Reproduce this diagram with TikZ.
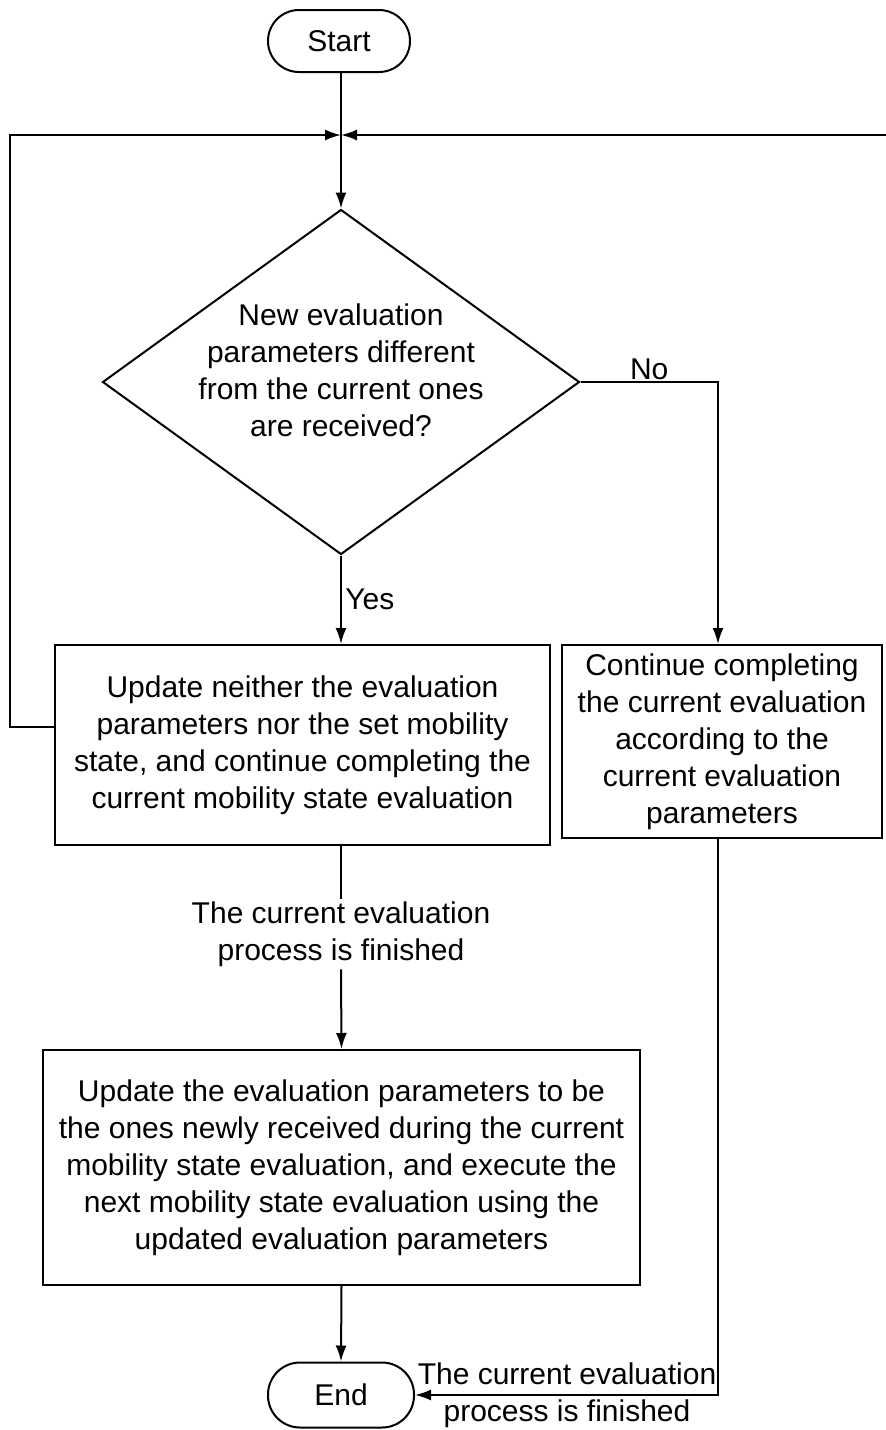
\documentclass[tikz,border=0pt]{standalone}
\usepackage{fontspec}
\setmainfont{Liberation Sans}
\usetikzlibrary{shapes.geometric, arrows.meta}

\begin{document}
\begin{tikzpicture}[x=1pt, y=-1pt, line width=2pt,
    font=\fontsize{30}{37}\selectfont,
    term/.style={draw, rounded corners=31pt, minimum width=142pt,
        minimum height=62pt, inner sep=0pt},
    box/.style={draw, inner sep=0pt, align=center},
    lbl/.style={align=center, inner sep=2pt},
    arr/.style={-{Latex[length=16pt,width=11pt]}}]
    \useasboundingbox (0, 0) rectangle (886, 1430);
    % start terminal and the merge point below it
    \node[term] (start) at (339, 41) {Start};
    \coordinate (jn) at (341, 135);
    \coordinate (lft) at (10, 135);
    \coordinate (rgt) at (886, 135);
    % the decision, its text set a little above the middle
    \node[draw, shape=diamond, aspect=1.383, minimum width=477pt,
        minimum height=345pt, inner sep=0pt] (decide) at (341, 382) {};
    \node[lbl] (ask) at (341, 370)
        {New evaluation\\parameters different\\from the current ones\\are received?};
    % box on the yes branch
    \node[box, minimum width=495pt, minimum height=200pt] (keep) at (302.5, 745)
        {Update neither the evaluation\\parameters nor the set mobility\\state, and continue completing the\\current mobility state evaluation};
    % box on the no branch
    \node[box, minimum width=320pt, minimum height=193pt] (cont) at (722, 741.5)
        {Continue completing\\the current evaluation\\according to the\\current evaluation\\parameters};
    % label between the yes box and the update box
    \node[lbl] (fin) at (341, 934) {The current evaluation\\process is finished};
    % the update box
    \node[box, minimum width=597pt, minimum height=235pt] (update) at (341.5, 1167.5)
        {Update the evaluation parameters to be\\the ones newly received during the current\\mobility state evaluation, and execute the\\next mobility state evaluation using the\\updated evaluation parameters};
    % end terminal, with label of the right return line
    \node[term, minimum width=146pt, minimum height=65pt, rounded corners=32pt] (end)
        at (341, 1395) {End};
    \node[lbl] (fintwo) at (567, 1395) {The current evaluation\\process is finished};
    % connectors at the top
    \draw (start.south -| jn) -- (jn);
    \coordinate (lp) at (10, 727);
    \draw[arr] (keep.west |- lp) -- (lp) -- (lft) -- (jn);
    \draw[arr] (rgt) -- (jn);
    \draw[arr] (jn) -- (decide.north);
    % yes and no branches
    \draw[arr] (decide.south) -- node[right] {Yes} (decide.south |- keep.north);
    \coordinate (nc) at (718, 382);
    \draw[arr] (decide.east) -- node[above, inner sep=1pt] {No} (nc) -- (nc |- cont.north);
    % down to the update box and to the end
    \draw (fin |- keep.south) -- (fin.north);
    \draw[arr] (fin.south) -- (update.north);
    \draw[arr] (update.south) -- (end.north);
    % return line from the no branch box
    \draw[arr] (nc |- cont.south) -- (nc |- end) -- (end.east);
\end{tikzpicture}
\end{document}
